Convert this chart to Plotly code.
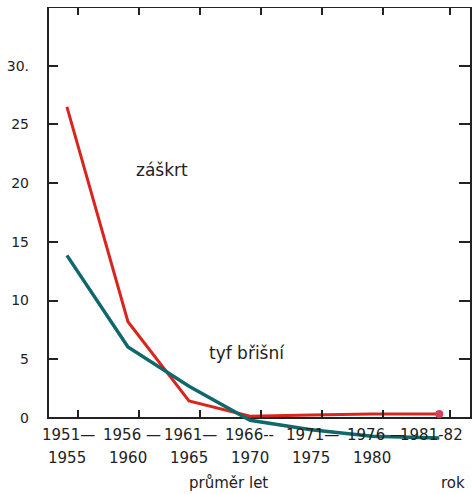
import plotly.graph_objects as go

# data (per 100 000 inhabitants)
positions = [0, 1, 2, 3, 4, 5, 6.1]
zaskrt = [26.5, 8.2, 1.45, 0.15, 0.25, 0.35, 0.35]
tyf = [13.85, 6.05, 2.7, -0.2, -1.0, -1.55, -1.7]
label_top = ["1951—", "1956 —", "1961—", "1966--", "1971—", "1976 —", "1981-82"]
label_bottom = ["1955", "1960", "1965", "1970", "1975", "1980", ""]
ytick_vals = [0, 5, 10, 15, 20, 25, 30]
ytick_text = ["0", "5", "10", "15", "20", "25", "30."]

RED = "#d8261e"
TEAL = "#11686a"
FONT = "DejaVu Sans"
INK = "#222"
YMIN, YMAX = -2.3, 35.0
XMIN, XMAX = -0.31, 6.62
tick_pos = [p + 0.18 for p in positions]

fig = go.Figure()
fig.add_trace(go.Scatter(x=positions, y=zaskrt, mode="lines",
                         line=dict(color=RED, width=3), showlegend=False))
fig.add_trace(go.Scatter(x=[positions[-1]], y=[zaskrt[-1]], mode="markers",
                         marker=dict(color="#d6405a", size=8), showlegend=False))
fig.add_trace(go.Scatter(x=positions, y=tyf, mode="lines",
                         line=dict(color=TEAL, width=3.5), showlegend=False))

# frame from 0 up
fig.add_shape(type="rect", xref="paper", yref="y", x0=0, x1=1, y0=0, y1=YMAX,
              line=dict(color=INK, width=2), layer="below")

annotations = []
for i, (t, b) in enumerate(zip(label_top, label_bottom)):
    annotations.append(dict(x=i, y=0, xref="x", yref="paper", text=t,
                            showarrow=False, xanchor="left", yanchor="middle",
                            xshift=-27 if i < 6 else -35, yshift=10,
                            font=dict(family=FONT, size=15, color=INK)))
    if b:
        annotations.append(dict(x=i, y=0, xref="x", yref="paper", text=b,
                                showarrow=False, xanchor="center", yanchor="middle",
                                yshift=-13,
                                font=dict(family=FONT, size=15, color=INK)))
annotations.append(dict(x=2.64, y=0, xref="x", yref="paper", text="průměr let",
                        showarrow=False, xanchor="center", yanchor="middle", yshift=-38,
                        font=dict(family=FONT, size=15, color=INK)))
annotations.append(dict(x=6.33, y=0, xref="x", yref="paper", text="rok",
                        showarrow=False, xanchor="center", yanchor="middle", yshift=-38,
                        font=dict(family=FONT, size=15, color=INK)))
annotations.append(dict(x=1.55, y=21.1, xref="x", yref="y", text="záškrt",
                        showarrow=False, xanchor="center", yanchor="middle",
                        font=dict(family=FONT, size=17, color=INK)))
annotations.append(dict(x=2.95, y=5.5, xref="x", yref="y", text="tyf břišní",
                        showarrow=False, xanchor="center", yanchor="middle",
                        font=dict(family=FONT, size=17, color=INK)))

zero_frac = (0 - YMIN) / (YMAX - YMIN)

fig.update_layout(
    width=472, height=494,
    margin=dict(l=48, r=1, t=7, b=49),
    paper_bgcolor="white", plot_bgcolor="white",
    annotations=annotations,
    xaxis=dict(range=[XMIN, XMAX], side="top", tickvals=tick_pos, ticks="inside",
               ticklen=8, tickwidth=2, tickcolor=INK, showticklabels=False,
               showgrid=False, zeroline=False, showline=False),
    xaxis2=dict(range=[XMIN, XMAX], overlaying="x", anchor="free", position=zero_frac,
                side="bottom", tickvals=tick_pos, ticks="inside", ticklen=8,
                tickwidth=2, tickcolor=INK, showticklabels=False,
                showgrid=False, zeroline=False, showline=False),
    yaxis=dict(range=[YMIN, YMAX], tickvals=ytick_vals, ticktext=ytick_text,
               ticks="inside", ticklen=10, tickwidth=2, tickcolor=INK,
               showline=False, showgrid=False, zeroline=False,
               ticklabelstandoff=18,
               tickfont=dict(family=FONT, size=14, color=INK)),
    yaxis2=dict(range=[YMIN, YMAX], overlaying="y", side="right", anchor="x",
                tickvals=ytick_vals, ticks="inside", ticklen=12, tickwidth=2,
                tickcolor=INK, showticklabels=False, showline=False,
                showgrid=False, zeroline=False),
)
# invisible helper traces so the overlay axes are drawn
fig.add_trace(go.Scatter(x=[XMIN], y=[YMIN], xaxis="x2", mode="markers",
                         marker=dict(opacity=0), showlegend=False, hoverinfo="skip"))
fig.add_trace(go.Scatter(x=[XMIN], y=[YMIN], yaxis="y2", mode="markers",
                         marker=dict(opacity=0), showlegend=False, hoverinfo="skip"))

fig.write_html("out.html", config={"displayModeBar": False},
               post_script="document.body.style.margin='0';document.body.style.padding='0';")
